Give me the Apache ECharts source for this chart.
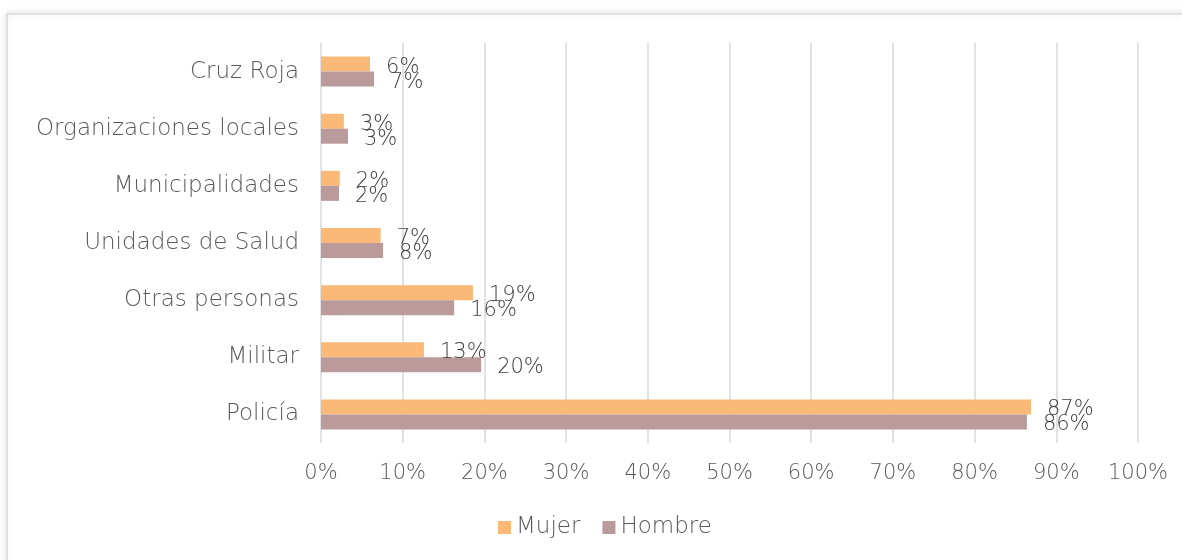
<!DOCTYPE html>
<html>
<head>
<meta charset="utf-8">
<script src="https://cdn.jsdelivr.net/npm/echarts@6/dist/echarts.min.js"></script>
<style>
  html, body { margin: 0; padding: 0; background: #fff; }
  #main { width: 1182px; height: 560px; }
</style>
</head>
<body>
<div id="main"></div>
<script>
// categorias, de abajo hacia arriba
var categories = ['Policía', 'Militar', 'Otras personas', 'Unidades de Salud', 'Municipalidades', 'Organizaciones locales', 'Cruz Roja'];
// porcentajes
var mujer = [86.9, 12.6, 18.6, 7.3, 2.3, 2.8, 6.0];
var hombre = [86.4, 19.6, 16.3, 7.6, 2.2, 3.3, 6.5];
var seriesNames = ['Mujer', 'Hombre'];

var fontFam = 'DejaVu Sans';
var fontW = 200;
var labelStyle = {
	show: true,
	position: 'right',
	distance: 16,
	offset: [0, 3],
	color: '#404040',
	fontSize: 21,
	fontWeight: fontW,
	fontFamily: fontFam,
	formatter: function (p) {
		return Math.round(p.value) + '%';
	}
};

var chart = echarts.init(document.getElementById('main'));
var option = {
	backgroundColor: '#fff',
	animation: false,
	graphic: [{
		type: 'rect',
		shape: { x: 7, y: 14, width: 1200, height: 600 },
		style: {
			fill: '#fff',
			stroke: '#d9d9d9',
			lineWidth: 1.5,
			shadowBlur: 8,
			shadowColor: 'rgba(0,0,0,0.12)'
		},
		z: -10
	}],
	legend: {
		data: seriesNames,
		bottom: 16,
		left: 493,
		itemWidth: 13,
		itemHeight: 13,
		itemGap: 22,
		icon: 'rect',
		textStyle: { color: '#595959', fontSize: 23, fontWeight: fontW, fontFamily: fontFam }
	},
	grid: {
		left: 321,
		right: 44,
		top: 43,
		bottom: 117
	},
	xAxis: {
		type: 'value',
		min: 0,
		max: 100,
		interval: 10,
		axisLine: { show: false },
		axisTick: { show: false },
		splitLine: { lineStyle: { color: '#d9d9d9', width: 1.5 } },
		axisLabel: {
			formatter: '{value}%',
			color: '#595959',
			fontSize: 21,
			fontWeight: fontW,
			fontFamily: fontFam,
			margin: 20
		}
	},
	yAxis: {
		type: 'category',
		data: categories,
		axisLine: { show: false },
		axisTick: { show: false },
		axisLabel: {
			color: '#595959',
			fontSize: 23,
			fontWeight: fontW,
			fontFamily: fontFam,
			margin: 22
		}
	},
	series: [{
		name: 'Mujer',
		type: 'bar',
		data: mujer,
		barWidth: 15,
		barGap: '0%',
		itemStyle: { color: '#FBB977' },
		label: labelStyle
	}, {
		name: 'Hombre',
		type: 'bar',
		data: hombre,
		barWidth: 15,
		barGap: '0%',
		itemStyle: { color: '#BA9A9A' },
		label: labelStyle
	}]
};
chart.setOption(option);
</script>
</body>
</html>
